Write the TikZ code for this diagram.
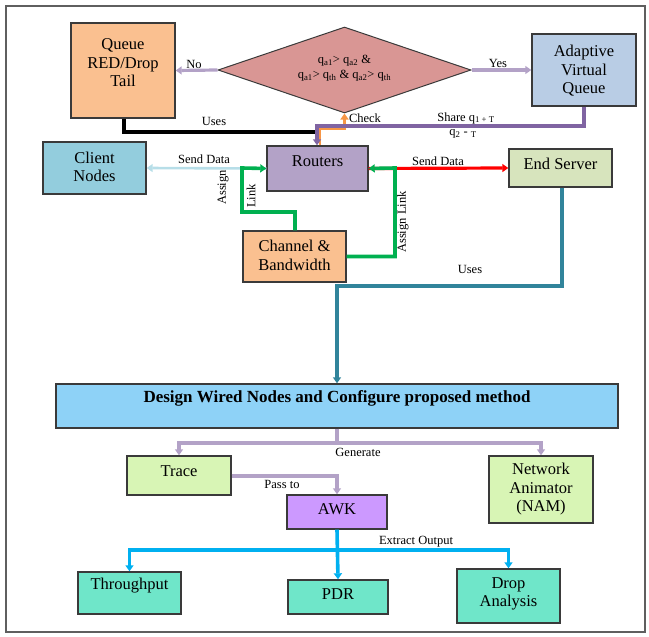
\documentclass[tikz,border=0pt]{standalone}
\usepackage{fontspec}
\setmainfont{Liberation Serif}
\usetikzlibrary{arrows.meta,shapes.geometric}
\definecolor{bdr}{HTML}{3A3A3A}
\definecolor{frm}{HTML}{5F5F5F}
\definecolor{cqueue}{HTML}{FAC090}
\definecolor{cdiam}{HTML}{D99694}
\definecolor{cadapt}{HTML}{B9CDE5}
\definecolor{cclient}{HTML}{93CDDD}
\definecolor{crout}{HTML}{B3A2C7}
\definecolor{cserv}{HTML}{D7E4BD}
\definecolor{cdesign}{HTML}{8ED2F7}
\definecolor{ctrace}{HTML}{D8F5B5}
\definecolor{cawk}{HTML}{CC99FF}
\definecolor{cout}{HTML}{6FE6C9}
\definecolor{llav}{HTML}{B3A2C7}
\definecolor{lpurp}{HTML}{8064A2}
\definecolor{lorange}{HTML}{F79646}
\definecolor{lgreen}{HTML}{00B050}
\definecolor{lred}{HTML}{FF0000}
\definecolor{lcyan}{HTML}{B7DEE8}
\definecolor{lteal}{HTML}{31849B}
\definecolor{lblue}{HTML}{00B0F0}
\begin{document}
\begin{tikzpicture}[x=1pt,y=-1pt,
  box/.style={draw=bdr, line width=1.4pt, inner sep=0pt},
  btxt/.style={font=\fontsize{16.5}{18.5}\selectfont, align=center, inner sep=0pt},
  lbl/.style={font=\fontsize{12.5}{14}\selectfont, inner sep=0pt},
  arr/.style={-{Triangle[length=6pt,width=8pt]}},
  conn/.style={line width=3.2pt}]
\useasboundingbox (0,0) rectangle (649,637);
\draw[frm, line width=1.5pt] (6,6) rectangle (645,632);

% boxes
\node[box, fill=cqueue, minimum width=104pt, minimum height=95pt] (queue) at (123,70.5) {};
\node[btxt] (queuet) at (123,63) {Queue\\RED/Drop\\Tail};
\node[diamond, draw=bdr, line width=1pt, fill=cdiam, minimum width=253pt, minimum height=86pt, inner sep=0pt] (dec) at (344.5,70) {};
\node[font=\fontsize{12.5}{15}\selectfont, align=center, inner sep=0pt] (dect) at (344.5,68)
  {q\textsubscript{a1}> q\textsubscript{a2} \&\\q\textsubscript{a1}> q\textsubscript{th} \& q\textsubscript{a2}> q\textsubscript{th}};
\node[box, fill=cadapt, minimum width=104pt, minimum height=72pt] (adapt) at (584,70) {};
\node[btxt] (adaptt) at (584,71) {Adaptive\\Virtual\\Queue};
\node[box, fill=cclient, minimum width=103pt, minimum height=52pt] (client) at (94.5,168) {};
\node[btxt] (clientt) at (94.5,167) {Client\\Nodes};
\node[box, fill=crout, minimum width=101pt, minimum height=45pt] (rout) at (317.5,168.5) {};
\node[btxt] (routt) at (317.5,161) {Routers};
\node[box, fill=cserv, minimum width=103pt, minimum height=38pt] (serv) at (560.5,168) {};
\node[btxt] (servt) at (560.5,164) {End Server};
\node[box, fill=cqueue, minimum width=103pt, minimum height=51pt] (chan) at (294.5,256.5) {};
\node[btxt] (chant) at (294.5,255.5) {Channel \&\\Bandwidth};
\node[box, fill=cdesign, minimum width=562pt, minimum height=44pt] (design) at (337,406) {};
\node[btxt, font=\fontsize{17}{19}\selectfont\bfseries] (designt) at (337,398) {Design Wired Nodes and Configure proposed method};
\node[box, fill=ctrace, minimum width=104pt, minimum height=39pt] (trace) at (179,475.5) {};
\node[btxt] (tracet) at (179,471) {Trace};
\node[box, fill=ctrace, minimum width=104pt, minimum height=67pt] (nam) at (541,489.5) {};
\node[btxt] (namt) at (541,489.5) {Network\\Animator\\(NAM)};
\node[box, fill=cawk, minimum width=100pt, minimum height=34pt] (awk) at (337,512) {};
\node[btxt] (awkt) at (337,509) {AWK};
\node[box, fill=cout, minimum width=103pt, minimum height=42pt] (thr) at (129.5,593) {};
\node[btxt] (thrt) at (129.5,586) {Throughput};
\node[box, fill=cout, minimum width=100pt, minimum height=34pt] (pdr) at (338,597) {};
\node[btxt] (pdrt) at (338,594) {PDR};
\node[box, fill=cout, minimum width=103pt, minimum height=54pt] (drop) at (508.5,596) {};
\node[btxt] (dropt) at (508.5,594) {Drop\\Analysis};

% top connectors
\draw[conn, llav, arr] (dec.west) -- (queue.east);
\draw[conn, llav, arr] (dec.east) -- (adapt.west);
\node[lbl] (nol) at (194,64) {No};
\node[lbl] (yesl) at (498,63) {Yes};
\draw[conn, black, line width=3.4pt] (queue.south -| 124,0) -- (124,132) -- (319,132);
\draw[conn, lorange, line width=2.6pt, arr] ([xshift=2.5pt]rout.north) |- (344.5,129) -- (dec.south);
\draw[conn, lpurp, arr] (adapt.south) |- (317,126) -- ([xshift=-0.5pt]rout.north);
\node[lbl] (usesl) at (214,121) {Uses};
\node[lbl] (checkl) at (365,118) {Check};
\node[lbl] (sharel) at (466,118) {Share q\textsubscript{1 + T}};
\node[lbl] (sharel2) at (463,134) {q\textsubscript{2} - \textsubscript{T}};

% router connectors
\draw[conn, lcyan, line width=2.6pt, arr] (rout.west) -- (client.east);
\node[lbl] (sdl) at (204,159) {Send Data};
\draw[conn, lred, arr] (rout.east) -- (serv.west);
\node[lbl] (sdr) at (438,161) {Send Data};
\draw[conn, lgreen, line width=3.6pt, arr] (chan.north -| 295,0) -- (295,212) -- (242,212) -- (242,168) -- (rout.west);
\draw[conn, lgreen, line width=3.6pt, arr] (chan.east) -- (395,256.5) -- (395,168) -- (rout.east);
\node[lbl, rotate=90, anchor=west] (asg1) at (223,205) {Assign};
\node[lbl, rotate=90, anchor=west] (lnk1) at (251,208) {Link};
\node[lbl, rotate=90, anchor=west] (asg2) at (403,253) {Assign Link};

% lower connectors
\draw[conn, lteal, arr] (serv.south -| 562,0) -- (562,286) -- (337,286) -- (design.north);
\node[lbl] (uses2) at (470,269) {Uses};
\draw[conn, llav] (design.south) -- (337,443);
\draw[conn, llav, arr] (337,443) -| (trace.north);
\draw[conn, llav, arr] (337,443) -| (nam.north);
\node[lbl] (genl) at (358,452) {Generate};
\draw[conn, llav, arr] (trace.east |- 0,476) -| (awk.north);
\node[lbl] (passl) at (282,484) {Pass to};
\draw[conn, lblue, line width=3.6pt, arr] (awk.south) -- (pdr.north);
\draw[conn, lblue, line width=3.6pt, arr] (338,550) -| (thr.north);
\draw[conn, lblue, line width=3.6pt, arr] (338,550) -| (drop.north);
\node[lbl] (extl) at (416,542) {Extract Output};
\end{tikzpicture}
\end{document}
